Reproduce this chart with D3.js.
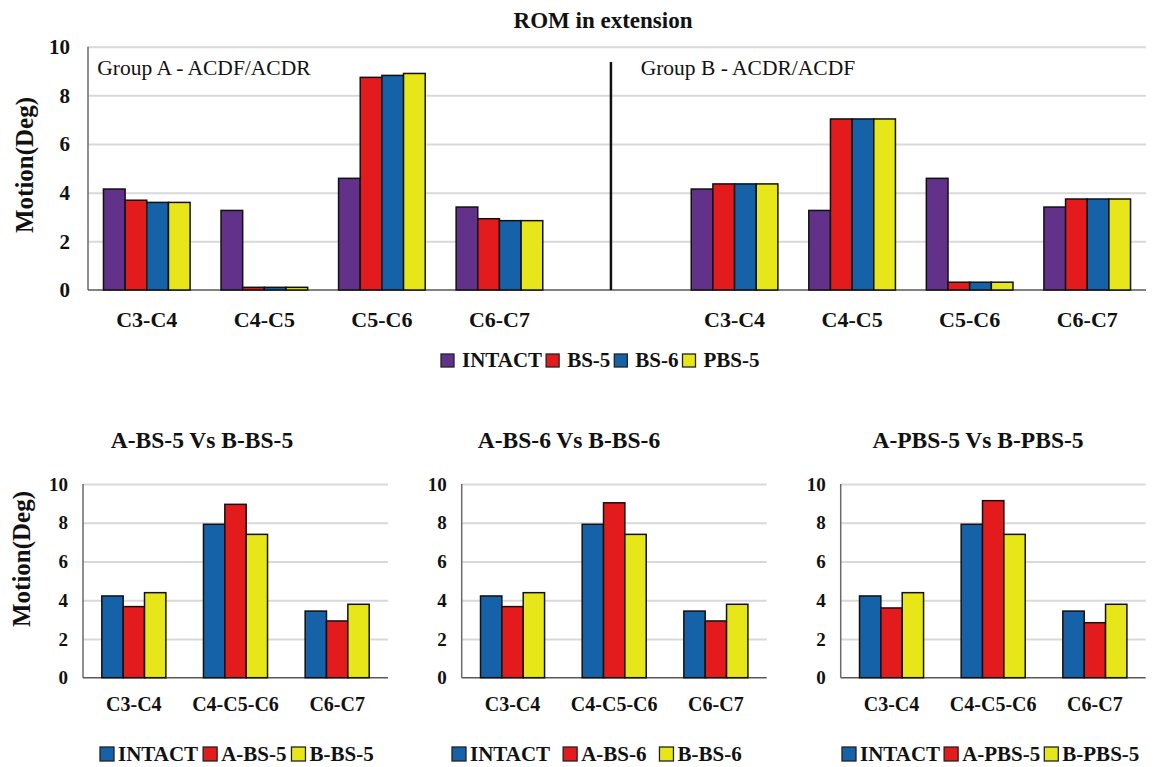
<!DOCTYPE html>
<html>
<head>
<meta charset="utf-8">
<script src="https://cdn.jsdelivr.net/npm/d3@7"></script>
<style>
  body { margin: 0; background: #fff; }
  svg { display: block; }
</style>
</head>
<body>
<svg id="chart" width="1153" height="767"></svg>
<script>
// ---------- data ----------
const spinalLevels = ["C3-C4", "C4-C5", "C5-C6", "C6-C7"];
const implantSeries = ["INTACT", "BS-5", "BS-6", "PBS-5"];

// Group A - ACDF/ACDR, range of motion in extension (deg)
const groupA_INTACT = [4.15, 3.27, 4.59, 3.41];
const groupA_BS5    = [3.69, 0.11, 8.74, 2.93];
const groupA_BS6    = [3.60, 0.11, 8.82, 2.85];
const groupA_PBS5   = [3.60, 0.11, 8.90, 2.85];

// Group B - ACDR/ACDF
const groupB_INTACT = [4.15, 3.27, 4.59, 3.41];
const groupB_BS5    = [4.36, 7.03, 0.32, 3.74];
const groupB_BS6    = [4.36, 7.03, 0.32, 3.74];
const groupB_PBS5   = [4.36, 7.03, 0.32, 3.74];

// Pairwise comparisons of the two groups
const pairLevels = ["C3-C4", "C4-C5-C6", "C6-C7"];
const cmpIntact  = [4.22, 7.92, 3.44];
const cmpA_BS5   = [3.67, 8.95, 2.93];
const cmpB_BS5   = [4.39, 7.40, 3.79];
const cmpA_BS6   = [3.67, 9.03, 2.93];
const cmpB_BS6   = [4.39, 7.40, 3.79];
const cmpA_PBS5  = [3.60, 9.14, 2.84];
const cmpB_PBS5  = [4.39, 7.40, 3.79];

const yTicks = [0, 2, 4, 6, 8, 10];

const PURPLE = "#62318a", RED = "#e41b1d", BLUE = "#1562a8", YELLOW = "#e6e619";
const implantColors = [PURPLE, RED, BLUE, YELLOW];
const SERIF = '"Liberation Serif", "Times New Roman", Times, serif';

const svg = d3.select("#chart");
svg.append("rect").attr("width", 1153).attr("height", 767).attr("fill", "#fff");

// serif text helper: inline style so every label uses the same face
function styleText(sel, size, bold) {
  return sel.style("font-family", SERIF).style("font-size", size + "px")
    .style("font-weight", bold ? "bold" : "normal").style("fill", "#111");
}

// ---------- helpers ----------
function drawGridAndAxes(g, y, x0, x1, tickSize, tickPad) {
  // light horizontal gridlines
  g.append("g")
    .attr("transform", `translate(${x0},0)`)
    .call(d3.axisLeft(y).tickValues(yTicks.filter(t => t > 0)).tickSize(-(x1 - x0)).tickFormat(""))
    .call(a => a.select(".domain").remove())
    .call(a => a.selectAll("line").attr("stroke", "#d9d9d9").attr("stroke-width", 2));
  // value axis labels
  g.append("g")
    .attr("transform", `translate(${x0},0)`)
    .call(d3.axisLeft(y).tickValues(yTicks).tickSize(0).tickPadding(tickPad))
    .call(a => a.select(".domain").remove())
    .call(a => styleText(a.selectAll("text"), tickSize, true));
  // left axis and baseline
  g.append("line").attr("x1", x0).attr("x2", x0).attr("y1", y(0)).attr("y2", y(10))
    .attr("stroke", "#6a6a6a").attr("stroke-width", 1.5);
  g.append("line").attr("x1", x0).attr("x2", x1).attr("y1", y(0)).attr("y2", y(0))
    .attr("stroke", "#595959").attr("stroke-width", 1.5);
}

function drawLegend(g, items, startX, baseY, box, gap, textGap, fontSize) {
  let cx = startX;
  items.forEach(it => {
    g.append("rect").attr("x", cx).attr("y", baseY - box).attr("width", box).attr("height", box)
      .attr("fill", it.color).attr("stroke", "#222").attr("stroke-width", 1.3);
    const t = styleText(g.append("text").attr("x", cx + box + textGap).attr("y", baseY), fontSize, true)
      .text(it.label);
    cx += box + textGap + t.node().getComputedTextLength() + gap;
  });
}

function yLabel(g, cx, cy) {
  styleText(g.append("text").attr("transform", `translate(${cx},${cy}) rotate(-90)`)
    .attr("text-anchor", "middle"), 25, true)
    .text("Motion(Deg)");
}

// ---------- top panel: both groups ----------
(function () {
  const L = 88, R = 1146, T = 46.7, B = 290;
  const g = svg.append("g");

  const rows = [];
  const seriesA = [groupA_INTACT, groupA_BS5, groupA_BS6, groupA_PBS5];
  const seriesB = [groupB_INTACT, groupB_BS5, groupB_BS6, groupB_PBS5];
  spinalLevels.forEach((lv, i) => rows.push({ key: "A:" + lv, label: lv, values: seriesA.map(s => s[i]) }));
  rows.push({ key: "gap", label: "", values: [] });
  spinalLevels.forEach((lv, i) => rows.push({ key: "B:" + lv, label: lv, values: seriesB.map(s => s[i]) }));

  const x = d3.scaleBand().domain(rows.map(r => r.key)).range([L, R])
    .paddingInner(0.263).paddingOuter(0.1315);
  const xs = d3.scaleBand().domain(implantSeries).range([0, x.bandwidth()]);
  const y = d3.scaleLinear().domain([0, 10]).range([B, T]);

  drawGridAndAxes(g, y, L, R, 21, 18);

  // bars
  const grp = g.selectAll("g.level").data(rows.filter(r => r.values.length)).join("g")
    .attr("transform", r => `translate(${x(r.key)},0)`);
  grp.selectAll("rect").data(r => r.values.map((v, i) => ({ s: implantSeries[i], v, c: implantColors[i] })))
    .join("rect")
    .attr("x", d => xs(d.s)).attr("width", xs.bandwidth())
    .attr("y", d => y(d.v)).attr("height", d => y(0) - y(d.v))
    .attr("fill", d => d.c).attr("stroke", "#111").attr("stroke-width", 1.5);

  // category labels
  const labelOf = Object.fromEntries(rows.map(r => [r.key, r.label]));
  g.append("g").attr("transform", `translate(0,${B})`)
    .call(d3.axisBottom(x).tickSize(0).tickPadding(21.5).tickFormat(k => labelOf[k]))
    .call(a => a.select(".domain").remove())
    .call(a => styleText(a.selectAll("text"), 22, true));

  // separator between the two groups
  const sx = x("gap") + x.bandwidth() * 0.43;
  g.append("line").attr("x1", sx).attr("x2", sx).attr("y1", y(9.37)).attr("y2", y(0))
    .attr("stroke", "#111").attr("stroke-width", 2.5);

  styleText(g.append("text").attr("x", 97.3).attr("y", 75), 21.5, false).text("Group A - ACDF/ACDR");
  styleText(g.append("text").attr("x", 640.7).attr("y", 75), 21.5, false).text("Group B - ACDR/ACDF");

  styleText(svg.append("text").attr("x", 603).attr("y", 28).attr("text-anchor", "middle"), 23, true)
    .text("ROM in extension");

  yLabel(g, 33, 165);

  drawLegend(g, implantSeries.map((s, i) => ({ label: s, color: implantColors[i] })),
    441, 367, 13, 4, 8, 21);
})();

// ---------- bottom panels: pairwise comparisons ----------
const panels = [
  { title: "A-BS-5 Vs B-BS-5",   titleX: 202, L: 83,    a: cmpA_BS5,  b: cmpB_BS5,  names: ["INTACT", "A-BS-5", "B-BS-5"],   legendX: 100, legendGap: 5,  yTitle: true },
  { title: "A-BS-6 Vs B-BS-6",   titleX: 569, L: 461.7, a: cmpA_BS6,  b: cmpB_BS6,  names: ["INTACT", "A-BS-6", "B-BS-6"],   legendX: 452, legendGap: 13, yTitle: false },
  { title: "A-PBS-5 Vs B-PBS-5", titleX: 978, L: 840.7, a: cmpA_PBS5, b: cmpB_PBS5, names: ["INTACT", "A-PBS-5", "B-PBS-5"], legendX: 842, legendGap: 4,  yTitle: false }
];
const pairColors = [BLUE, RED, YELLOW];

panels.forEach(p => {
  const L = p.L, R = p.L + 305, T = 484, B = 677.7;
  const g = svg.append("g");
  const x = d3.scaleBand().domain(pairLevels).range([L, R]).paddingInner(0.37).paddingOuter(0.185);
  const xs = d3.scaleBand().domain(p.names).range([0, x.bandwidth()]);
  const y = d3.scaleLinear().domain([0, 10]).range([B, T]);

  drawGridAndAxes(g, y, L, R, 19, 15);

  const series = [cmpIntact, p.a, p.b];
  const rows = pairLevels.map((lv, i) => ({ lv, values: series.map(s => s[i]) }));
  g.selectAll("g.level").data(rows).join("g")
    .attr("transform", r => `translate(${x(r.lv)},0)`)
    .selectAll("rect").data(r => r.values.map((v, i) => ({ s: p.names[i], v, c: pairColors[i] })))
    .join("rect")
    .attr("x", d => xs(d.s)).attr("width", xs.bandwidth())
    .attr("y", d => y(d.v)).attr("height", d => y(0) - y(d.v))
    .attr("fill", d => d.c).attr("stroke", "#111").attr("stroke-width", 1.5);

  g.append("g").attr("transform", `translate(0,${B})`)
    .call(d3.axisBottom(x).tickSize(0).tickPadding(19.5))
    .call(a => a.select(".domain").remove())
    .call(a => styleText(a.selectAll("text"), 20, true));

  styleText(g.append("text").attr("x", p.titleX).attr("y", 448).attr("text-anchor", "middle"), 23.5, true)
    .text(p.title);

  if (p.yTitle) yLabel(g, 30, 559);

  drawLegend(g, p.names.map((n, i) => ({ label: n, color: pairColors[i] })),
    p.legendX, 761, 14, p.legendGap, 4, 21);
});
</script>
</body>
</html>
